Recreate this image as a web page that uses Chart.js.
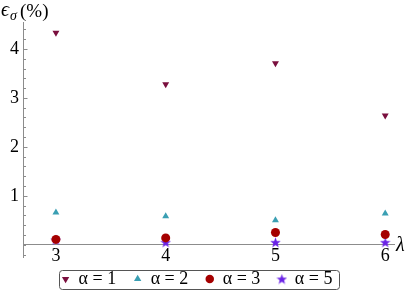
<!DOCTYPE html>
<html>
<head>
<meta charset="utf-8">
<script src="https://cdn.jsdelivr.net/npm/chart.js@4/dist/chart.umd.min.js"></script>
<style>
	html, body { margin: 0; padding: 0; background: #fff; }
	#wrap { width: 409px; height: 292px; }
</style>
</head>
<body>
<div id="wrap"><canvas id="chart"></canvas></div>
<script>
const lambdas = [3, 4, 5, 6];
const alpha1 = [4.33, 3.28, 3.71, 2.64];
const alpha2 = [0.66, 0.58, 0.50, 0.64];
const alpha3 = [0.11, 0.14, 0.25, 0.21];
const alpha5 = [0.10, 0.05, 0.05, 0.05];

const xTicks = [3, 4, 5, 6];
const yTicks = [-0.2, 0, 0.2, 0.4, 0.6, 0.8, 1, 1.2, 1.4, 1.6, 1.8, 2, 2.2, 2.4, 2.6, 2.8, 3, 3.2, 3.4, 3.6, 3.8, 4, 4.2, 4.4];
const yLabels = [1, 2, 3, 4];

const axisColor = '#8c8c8c';
const serif = 'Liberation Serif';
Chart.defaults.font.family = serif;

function makeStar(color, size) {
	const c = document.createElement('canvas');
	c.width = size;
	c.height = size;
	const ctx = c.getContext('2d');
	const r = size / 2;
	ctx.beginPath();
	for (let i = 0; i < 10; i++) {
		const rad = i % 2 ? r * 0.42 : r;
		const a = -Math.PI / 2 + (i * Math.PI) / 5;
		ctx.lineTo(r + rad * Math.cos(a), r + 0.5 + rad * Math.sin(a));
	}
	ctx.closePath();
	ctx.fillStyle = color;
	ctx.fill();
	return c;
}

function toPoints(values) {
	return values.map((v, i) => ({ x: lambdas[i], y: v }));
}

// a four-per-em space after the first labels keeps the legend items apart
const series = [
	{ label: 'α = 1\u2005', data: alpha1, color: '#7a0f3e', style: 'triangle', rotation: 180, radius: 4 },
	{ label: 'α = 2\u2005', data: alpha2, color: '#3a9fb3', style: 'triangle', rotation: 0, radius: 4 },
	{ label: 'α = 3\u2005', data: alpha3, color: '#a50000', style: 'circle', rotation: 0, radius: 4.5 },
	{ label: 'α = 5', data: alpha5, color: '#6a22e6', style: makeStar('#6a22e6', 11), rotation: 0, radius: 5 },
];

// axis titles, inner tick marks and the legend frame
const extras = {
	id: 'extras',
	afterDraw(chart) {
		const { ctx, chartArea } = chart;
		const y = chart.scales.y;
		const x = chart.scales.x;
		ctx.save();

		ctx.strokeStyle = axisColor;
		ctx.lineWidth = 1;
		const ax = Math.round(x.getPixelForValue(x.min)) + 0.5;
		for (const t of yTicks) {
			const py = Math.round(y.getPixelForValue(t)) + 0.5;
			const len = yLabels.includes(t) ? 4 : 2.5;
			ctx.beginPath();
			ctx.moveTo(ax, py);
			ctx.lineTo(ax + len, py);
			ctx.stroke();
		}

		ctx.fillStyle = '#000';
		ctx.textBaseline = 'alphabetic';
		ctx.font = 'italic 20px ' + serif;
		ctx.fillText('ϵ', 1, 16);
		ctx.font = 'italic 14px ' + serif;
		ctx.fillText('σ', 10, 20);
		ctx.font = '19px ' + serif;
		ctx.fillText('(%)', 20, 17);

		ctx.font = 'italic 20px ' + serif;
		ctx.fillText('λ', chartArea.right + 2, y.getPixelForValue(0) + 6);

		const boxes = chart.legend.legendHitBoxes;
		if (boxes && boxes.length) {
			const left = Math.min(...boxes.map((b) => b.left)) - 3;
			const right = Math.max(...boxes.map((b) => b.left + b.width)) + 6;
			const top = Math.min(...boxes.map((b) => b.top));
			const bottom = Math.max(...boxes.map((b) => b.top + b.height)) + 1;
			ctx.strokeStyle = '#555';
			ctx.beginPath();
			ctx.roundRect(Math.round(left) + 0.5, Math.round(top) + 0.5, Math.round(right - left), Math.round(bottom - top), 3);
			ctx.stroke();
		}
		ctx.restore();
	},
};

new Chart(document.getElementById('chart'), {
	type: 'scatter',
	data: {
		datasets: series.map((s) => ({
			label: s.label,
			data: toPoints(s.data),
			pointStyle: s.style,
			rotation: s.rotation,
			pointRadius: s.radius,
			pointHoverRadius: s.radius,
			backgroundColor: s.color,
			borderColor: s.color,
			borderWidth: 0,
		})),
	},
	plugins: [extras],
	options: {
		animation: false,
		responsive: true,
		maintainAspectRatio: false,
		layout: { padding: { top: 22, right: 15, left: 0, bottom: -6 } },
		plugins: {
			tooltip: { enabled: false },
			legend: {
				position: 'bottom',
				labels: {
					usePointStyle: true,
					boxHeight: 6,
					boxWidth: 8,
					padding: 13,
					color: '#000',
					font: { family: serif, size: 18 },
				},
			},
		},
		scales: {
			x: {
				type: 'linear',
				position: { y: 0 },
				min: 2.7,
				max: 6.08,
				afterBuildTicks: (scale) => {
					scale.ticks = xTicks.map((v) => ({ value: v }));
				},
				grid: { display: false, drawTicks: false },
				border: { color: axisColor },
				ticks: {
					padding: 1,
					color: '#000',
					font: { family: serif, size: 18 },
					callback: (v) => v,
				},
			},
			y: {
				type: 'linear',
				position: 'left',
				min: -0.25,
				max: 4.55,
				afterFit: (scale) => {
					scale.width = 23;
				},
				afterBuildTicks: (scale) => {
					scale.ticks = yLabels.map((v) => ({ value: v }));
				},
				grid: { display: false, drawTicks: false },
				border: { color: axisColor },
				ticks: {
					padding: 4,
					color: '#000',
					font: { family: serif, size: 18 },
					callback: (v) => v,
				},
			},
		},
	},
});
</script>
</body>
</html>
